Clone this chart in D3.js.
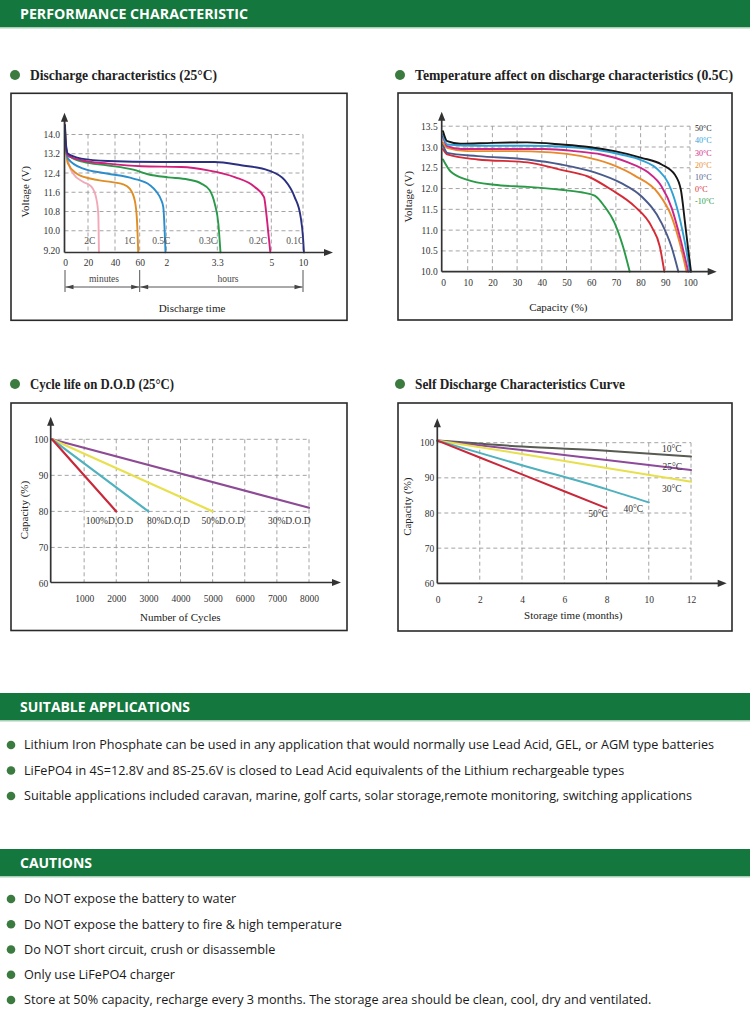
<!DOCTYPE html>
<html><head><meta charset="utf-8">
<script src="https://cdn.jsdelivr.net/npm/d3@7"></script>
<style>body{margin:0;background:#fff}svg{display:block}</style>
</head><body>
<svg id="page" width="750" height="1012"></svg>
<script>
// ================= DATA =================
// Chart 1: Discharge characteristics (25°C) — time in minutes, voltage in V
const dischargeRates = ["2C", "1C", "0.5C", "0.3C", "0.2C", "0.1C"];
const dischargeTimeTicks = [0, 20, 40, 60, 120, 198, 300, 600];
const dischargeTimeTickLabels = ["0", "20", "40", "60", "2", "3.3", "5", "10"];
const dischargeVoltTicks = [9.2, 10.0, 10.8, 11.6, 12.4, 13.2, 14.0];
const dischargeVoltTickLabels = ["9.20", "10.0", "10.8", "11.6", "12.4", "13.2", "14.0"];
const discharge2C = [[0,14.5],[0.3,13.9],[2.6,12.93],[7,12.38],[15.9,12.03],[22.7,11.82],[25.9,11.4],[27.6,10.71],[28.1,9.1]];
const discharge1C = [[0,14.3],[0.5,13.6],[2.6,12.79],[10,12.38],[21.5,12.17],[33.9,12.05],[46.5,11.93],[51.9,11.75],[56,11.26],[57.8,10.43],[58.8,9.1]];
const discharge05C = [[0,14.2],[0.5,13.6],[2.6,13.0],[15.9,12.58],[33.9,12.38],[54.8,12.17],[83.2,11.89],[98.3,11.61],[108,11.3],[113.2,10.98],[118.2,9.1]];
const discharge03C = [[0,14.2],[0.5,13.6],[2.6,13.14],[15.9,12.86],[33.9,12.72],[54.8,12.54],[78.7,12.35],[122.6,12.22],[153,12.13],[173.5,11.96],[186.4,11.68],[194,11.13],[200,10.29],[204,9.1]];
const discharge02C = [[0,14.3],[0.5,13.7],[2.4,13.14],[14.2,12.93],[34.8,12.79],[63.6,12.68],[142.9,12.65],[183.9,12.51],[230.9,12.23],[268.7,11.82],[286.3,11.4],[290.6,10.71],[295.2,9.73],[298.2,9.1]];
const discharge01C = [[0,14.4],[0.5,13.8],[2.4,13.21],[14.2,13.0],[34.8,12.9],[101,12.86],[194,12.86],[243,12.72],[294,12.51],[427,12.1],[521,11.4],[578,10.57],[600,9.73],[609,9.1]];

// Chart 2: Temperature affect on discharge (0.5C) — capacity %, voltage V
const tempLabels = ["50°C", "40°C", "30°C", "20°C", "10°C", "0°C", "-10°C"];
const capTicks = [0, 10, 20, 30, 40, 50, 60, 70, 80, 90, 100];
const voltTicks2 = [10.0, 10.5, 11.0, 11.5, 12.0, 12.5, 13.0, 13.5];
const temp50 = [[0,13.38],[1.7,13.14],[7,13.08],[20,13.1],[34,13.11],[48,13.06],[59,13.0],[69.5,12.9],[80.4,12.74],[88.5,12.58],[93.9,12.33],[96.3,11.97],[98,11.17],[99.3,10.52],[100.4,10.0]];
const temp40 = [[0,13.3],[1.7,13.06],[14,13.03],[34,13.03],[50.5,13.0],[61.4,12.94],[72,12.82],[80.4,12.68],[87.1,12.45],[91.2,12.13],[94.6,11.57],[97.7,10.77],[100,10.0]];
const temp30 = [[0,13.25],[1.7,13.02],[7.2,12.95],[20.7,12.95],[41,12.95],[53.3,12.9],[64.1,12.82],[74.9,12.63],[83,12.39],[88.5,12.05],[92.6,11.53],[95.9,10.84],[99.3,10.0]];
const temp20 = [[0,13.1],[1.7,12.98],[9.9,12.9],[27,12.9],[43.8,12.87],[56,12.78],[68.2,12.58],[77.6,12.31],[87.1,11.89],[92.5,11.33],[95.9,10.68],[98.6,10.0]];
const temp10 = [[0,13.05],[1.7,12.86],[14,12.78],[34.3,12.7],[47.8,12.58],[61.4,12.39],[72.2,12.13],[80.4,11.81],[88.5,11.17],[92.5,10.6],[95.3,10.0]];
const temp0 = [[0,12.95],[1.7,12.82],[14,12.7],[34.3,12.63],[47.8,12.45],[58.7,12.29],[68.2,11.97],[77.6,11.57],[84.4,11.09],[87.8,10.6],[89.6,10.0]];
const tempMinus10 = [[0,12.7],[3.1,12.41],[9.9,12.21],[20.7,12.09],[34.3,12.04],[47.8,11.97],[56,11.91],[61.4,11.83],[65.4,11.57],[69.5,11.17],[72.9,10.6],[75.6,10.0]];

// Chart 3: Cycle life on D.O.D (25°C) — cycles, capacity %
const dodLabels = ["100%D.O.D", "80%D.O.D", "50%D.O.D", "30%D.O.D"];
const cycleTicks = [1000, 2000, 3000, 4000, 5000, 6000, 7000, 8000];
const capTicks3 = [60, 70, 80, 90, 100];
const dod100 = [[0,100],[2000,80]];
const dod80 = [[0,100],[3000,80]];
const dod50 = [[0,100],[5000,80]];
const dod30 = [[0,100],[8000,81]];

// Chart 4: Self discharge — months, capacity %
const sdLabels = ["10°C", "25°C", "30°C", "40°C", "50°C"];
const monthTicks = [0, 2, 4, 6, 8, 10, 12];
const capTicks4 = [60, 70, 80, 90, 100];
const sd10 = [[0,100.6],[4,98.9],[8,97.7],[12,96.1]];
const sd25 = [[0,100.6],[4,97.9],[8,95.1],[12,92.2]];
const sd30 = [[0,100.6],[4,96.8],[8,92.8],[12,88.9]];
const sd40 = [[0,100.6],[4,93.6],[8,86.8],[10,83.0]];
const sd50 = [[0,100.6],[4,91.0],[8,81.4]];

// Text sections
const headerTitles = ["PERFORMANCE CHARACTERISTIC", "SUITABLE APPLICATIONS", "CAUTIONS"];
const chartTitles = ["Discharge characteristics (25°C)", "Temperature affect on discharge characteristics (0.5C)", "Cycle life on D.O.D (25°C)", "Self Discharge Characteristics Curve"];
const applications = [
  "Lithium Iron Phosphate can be used in any application that would normally use Lead Acid, GEL, or AGM type batteries",
  "LiFePO4 in 4S=12.8V and 8S-25.6V is closed to Lead Acid equivalents of the Lithium rechargeable types",
  "Suitable applications included caravan, marine, golf carts, solar storage,remote monitoring, switching applications"
];
const cautions = [
  "Do NOT expose the battery to water",
  "Do NOT expose the battery to fire & high temperature",
  "Do NOT short circuit, crush or disassemble",
  "Only use LiFePO4 charger",
  "Store at 50% capacity, recharge every 3 months. The storage area should be clean, cool, dry and ventilated."
];

// ================= DRAWING =================
const svg = d3.select("#page");
const SERIF = "'Liberation Serif','Times New Roman',serif";
const SANS = "'Open Sans','Noto Sans',sans-serif";
const GREEN = "#14773d";
const DOT = "#3b7b3f";
const AX = "#333";
const GRID = "#9a9a9a";

// --- header bars ---
function headerBar(y, h, label, width) {
  svg.append("rect").attr("x", 0).attr("y", y).attr("width", 750).attr("height", h).attr("fill", GREEN);
  svg.append("line").attr("x1", 0).attr("x2", 750).attr("y1", y + h + 0.75).attr("y2", y + h + 0.75)
    .attr("stroke", "#a9cdb5").attr("stroke-width", 1.5);
  svg.append("text").attr("x", 20).attr("y", y + h / 2).attr("dy", "0.36em")
    .attr("font-family", SANS).attr("font-weight", 700).attr("font-size", 14.5).attr("fill", "#fff")
    .attr("textLength", width).attr("lengthAdjust", "spacingAndGlyphs").text(label);
}
headerBar(0, 27, headerTitles[0], 228);
headerBar(693, 27, headerTitles[1], 170);
headerBar(849, 27, headerTitles[2], 72);

// --- bullet lists ---
function bulletList(items, yStart, step) {
  const tmp = svg.append("text").attr("font-family", SANS).attr("font-size", 12.5).text(applications[0]);
  const k = 690 / tmp.node().getComputedTextLength();
  tmp.remove();
  items.forEach((t, i) => {
    const y = yStart + i * step;
    svg.append("circle").attr("cx", 11).attr("cy", y).attr("r", 4.3).attr("fill", DOT);
    const tx = svg.append("text").attr("x", 24).attr("y", y).attr("dy", "0.35em")
      .attr("font-family", SANS).attr("font-size", 12.5).attr("fill", "#1a1a1a").text(t);
    const w = tx.node().getComputedTextLength();
    tx.attr("textLength", w * k).attr("lengthAdjust", "spacingAndGlyphs");
  });
}
bulletList(applications, 745, 25.5);
bulletList(cautions, 899, 25.25);

// --- chart titles ---
function chartTitle(x, y, label, width) {
  svg.append("circle").attr("cx", x).attr("cy", y - 5).attr("r", 5).attr("fill", DOT);
  svg.append("text").attr("x", x + 15).attr("y", y)
    .attr("font-family", SERIF).attr("font-weight", 700).attr("font-size", 14).attr("fill", "#222")
    .attr("textLength", width).attr("lengthAdjust", "spacingAndGlyphs").text(label);
}
chartTitle(15, 80, chartTitles[0], 187);
chartTitle(400, 80, chartTitles[1], 318);
chartTitle(15, 389, chartTitles[2], 144);
chartTitle(400, 389, chartTitles[3], 210);

// --- helpers ---
function box(x, y, w, h) {
  svg.append("rect").attr("x", x).attr("y", y).attr("width", w).attr("height", h)
    .attr("fill", "#fff").attr("stroke", "#2a2a2a").attr("stroke-width", 1.6);
}
function axesLines(x0, y0, yTip, xTip) {
  const g = svg.append("g");
  g.append("line").attr("x1", x0).attr("x2", x0).attr("y1", y0).attr("y2", yTip + 6).attr("stroke", AX).attr("stroke-width", 1.7);
  g.append("line").attr("x1", x0).attr("x2", xTip - 6).attr("y1", y0).attr("y2", y0).attr("stroke", AX).attr("stroke-width", 1.7);
  g.append("path").attr("d", `M${x0},${yTip} L${x0 - 3.6},${yTip + 9} L${x0 + 3.6},${yTip + 9} Z`).attr("fill", AX);
  g.append("path").attr("d", `M${xTip},${y0} L${xTip - 9},${y0 - 3.6} L${xTip - 9},${y0 + 3.6} Z`).attr("fill", AX);
}
function grid(xs, ys, xVals, yVals, xLeft, xRight, yTop, yBottom) {
  const g = svg.append("g").attr("stroke", GRID).attr("stroke-width", 0.9).attr("stroke-dasharray", "4,3");
  yVals.forEach(v => g.append("line").attr("x1", xLeft).attr("x2", xRight).attr("y1", ys(v)).attr("y2", ys(v)));
  xVals.forEach(v => g.append("line").attr("x1", xs(v)).attr("x2", xs(v)).attr("y1", yTop).attr("y2", yBottom));
}
function styleAxis(g) {
  g.select(".domain").remove();
  g.attr("font-family", SERIF).attr("font-size", 9.5);
  g.selectAll("text").attr("fill", "#333");
}
function xAxisLabels(xs, yPos, vals, fmt, pad) {
  const ax = d3.axisBottom(xs).tickValues(vals).tickSize(0).tickPadding(pad);
  if (fmt) ax.tickFormat(fmt);
  styleAxis(svg.append("g").attr("transform", `translate(0,${yPos})`).call(ax));
}
function yAxisLabels(ys, xPos, vals, fmt, pad) {
  const ax = d3.axisLeft(ys).tickValues(vals).tickSize(0).tickPadding(pad);
  if (fmt) ax.tickFormat(fmt);
  styleAxis(svg.append("g").attr("transform", `translate(${xPos},0)`).call(ax));
}
function axisTitle(x, y, label, rotate) {
  const t = svg.append("text").attr("font-family", SERIF).attr("font-size", 11).attr("fill", "#222")
    .attr("text-anchor", "middle").attr("dy", "0.35em").text(label);
  if (rotate) t.attr("transform", `translate(${x},${y}) rotate(-90)`);
  else t.attr("x", x).attr("y", y);
}
function series(xs, ys, data, color, width, curve) {
  const line = d3.line().x(d => xs(d[0])).y(d => ys(d[1])).curve(curve || d3.curveMonotoneX);
  svg.append("path").datum(data).attr("d", line).attr("fill", "none")
    .attr("stroke", color).attr("stroke-width", width).attr("stroke-linejoin", "round").attr("stroke-linecap", "round");
}
function smallText(x, y, label, color, size, anchor) {
  svg.append("text").attr("x", x).attr("y", y).attr("dy", "0.35em")
    .attr("font-family", SERIF).attr("font-size", size).attr("fill", color)
    .attr("text-anchor", anchor || "middle").text(label);
}

// ===== Chart 1 =====
box(11, 93.3, 336, 227);
const c1x = d3.scaleLinear().domain(dischargeTimeTicks).range([65, 88, 115, 139.7, 166.3, 217.3, 271.3, 303]);
const c1y = d3.scaleLinear().domain([9.2, 14.0]).range([250, 134.5]);
const c1AxisY = 252.5, c1AxisX = 64.5;
grid(c1x, c1y, dischargeTimeTicks.slice(1), dischargeVoltTicks.slice(1), c1AxisX, c1x(600), c1y(14.0), c1AxisY);
const dischargeColors = ["#f2a9b7", "#e08d24", "#2b8dcc", "#2a9a4a", "#d31f7b", "#2b2f80"];
[discharge2C, discharge1C, discharge05C, discharge03C, discharge02C, discharge01C]
  .forEach((d, i) => series(c1x, c1y, d, dischargeColors[i], 1.9));
axesLines(c1AxisX, c1AxisY, 112.7, 333);
yAxisLabels(c1y, c1AxisX, dischargeVoltTicks, (d, i) => dischargeVoltTickLabels[i], 4.5);
xAxisLabels(c1x, c1AxisY, dischargeTimeTicks, (d, i) => dischargeTimeTickLabels[i], 7);
const rateLabelAt = [21.3, 51.9, 108.7, 183.8, 274.9, 527];
dischargeRates.forEach((r, i) => smallText(c1x(rateLabelAt[i]), c1y(9.6), r, "#555", 9.5));
// time span annotation
(function () {
  const g = svg.append("g").attr("stroke", "#555").attr("stroke-width", 1);
  [0, 60, 600].forEach(v => g.append("line").attr("x1", c1x(v)).attr("x2", c1x(v)).attr("y1", 270).attr("y2", 292));
  const yA = 287;
  [[0, 60], [60, 600]].forEach(([a, b]) => {
    const xa = c1x(a) + 0.5, xb = c1x(b) - 0.5;
    g.append("line").attr("x1", xa).attr("x2", xb).attr("y1", yA).attr("y2", yA);
    svg.append("path").attr("d", `M${xa},${yA} L${xa + 8},${yA - 2.3} L${xa + 8},${yA + 2.3} Z`).attr("fill", "#444");
    svg.append("path").attr("d", `M${xb},${yA} L${xb - 8},${yA - 2.3} L${xb - 8},${yA + 2.3} Z`).attr("fill", "#444");
  });
  smallText(104, 279, "minutes", "#444", 9.5);
  smallText(228, 279, "hours", "#444", 9.5);
})();
axisTitle(24.7, 191.7, "Voltage (V)", true);
axisTitle(192, 308, "Discharge time", false);

// ===== Chart 2 =====
box(398, 93, 334, 227);
const c2x = d3.scaleLinear().domain([0, 100]).range([443, 690]);
const c2y = d3.scaleLinear().domain([10, 13.5]).range([271.7, 126.2]);
const c2AxisY = 271.7, c2AxisX = 441.7;
grid(c2x, c2y, capTicks.slice(1), voltTicks2.slice(1), c2AxisX, c2x(100), c2y(13.5), c2AxisY);
const tempColors = ["#161616", "#2ea2d6", "#cc2589", "#e88a2c", "#4b5a8c", "#d52b36", "#2a9a48"];
[tempMinus10, temp0, temp10, temp20, temp30, temp40, temp50].forEach((d, i) => series(c2x, c2y, d, tempColors[6 - i], 1.9));
axesLines(c2AxisX, c2AxisY, 111.7, 716.7);
yAxisLabels(c2y, c2AxisX, voltTicks2, d3.format(".1f"), 4);
xAxisLabels(c2x, c2AxisY, capTicks, d3.format("d"), 8);
tempLabels.forEach((t, i) => smallText(695, 128.3 + i * 12.2, t, tempColors[i], 8, "start"));
axisTitle(408.3, 196.7, "Voltage (V)", true);
axisTitle(558.3, 306.7, "Capacity (%)", false);

// ===== Chart 3 =====
box(11, 403, 336, 227.5);
const c3x = d3.scaleLinear().domain([0, 8000]).range([52, 309]);
const c3y = d3.scaleLinear().domain([60, 100]).range([583.5, 439.3]);
const c3AxisY = 582.5, c3AxisX = 50.7;
grid(c3x, c3y, cycleTicks, capTicks3.slice(1), c3AxisX, c3x(8000), c3y(100), c3AxisY);
const dodColors = ["#c8283a", "#4fb2be", "#e8e04c", "#8d4a95"];
[dod30, dod50, dod80, dod100].forEach((d, i) => series(c3x, c3y, d, dodColors[3 - i], 2.2, d3.curveLinear));
axesLines(c3AxisX, c3AxisY, 416.7, 341);
yAxisLabels(c3y, c3AxisX, capTicks3, d3.format("d"), 2.5);
xAxisLabels(c3x, c3AxisY, cycleTicks, d3.format("d"), 13);
const dodLabelAt = [1050, 2960, 4650, 6720];
dodLabels.forEach((t, i) => smallText(c3x(dodLabelAt[i]), c3y(80) + 9, t, "#333", 9.5, "start"));
axisTitle(24, 510, "Capacity (%)", true);
axisTitle(180.3, 617.3, "Number of Cycles", false);

// ===== Chart 4 =====
box(398, 403, 334, 228);
const c4x = d3.scaleLinear().domain([0, 12]).range([437.5, 691]);
const c4y = d3.scaleLinear().domain([60, 100]).range([583.3, 442.7]);
const c4AxisY = 583.3, c4AxisX = 437.3;
grid(c4x, c4y, monthTicks.slice(1), capTicks4.slice(1), c4AxisX, c4x(12), c4y(100), c4AxisY);
const sdColors = ["#575b52", "#8d4a9a", "#e7e04c", "#4fb1be", "#c8283a"];
[sd10, sd25, sd30, sd40, sd50].forEach((d, i) => series(c4x, c4y, d, sdColors[i], 2, d3.curveMonotoneX));
axesLines(c4AxisX, c4AxisY, 418.3, 726.7);
yAxisLabels(c4y, c4AxisX, capTicks4, d3.format("d"), 3);
xAxisLabels(c4x, c4AxisY, monthTicks, d3.format("d"), 13);
const sdLabelPos = [[671.7, 449], [672.3, 466.7], [671.7, 488.3], [633.3, 508.3], [598, 514]];
sdLabels.forEach((t, i) => smallText(sdLabelPos[i][0], sdLabelPos[i][1], t, "#333", 9.5));
axisTitle(406.7, 506.7, "Capacity (%)", true);
axisTitle(573.3, 615, "Storage time (months)", false);
</script>
</body></html>
